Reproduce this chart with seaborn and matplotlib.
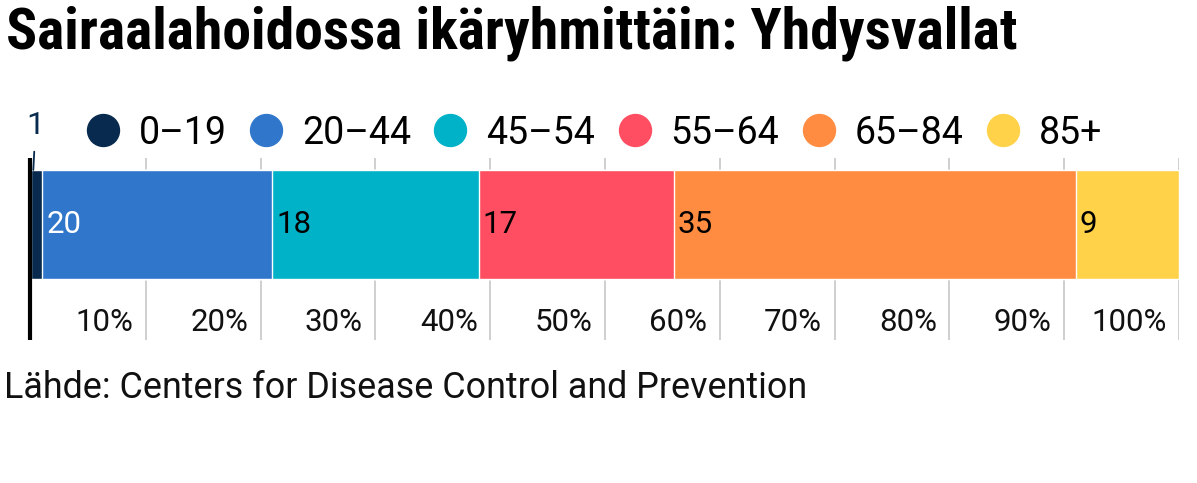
import matplotlib
matplotlib.use("Agg")
import matplotlib.pyplot as plt
import matplotlib.font_manager as fm
from matplotlib.lines import Line2D
from matplotlib.transforms import ScaledTranslation
import seaborn as sns
import numpy as np

# Data
groups = ["0–19", "20–44", "45–54", "55–64", "65–84", "85+"]
shares = [1, 20, 18, 17, 35, 9]
colors = ["#072a4e", "#3077cc", "#00b2c7", "#ff4e61", "#ff8c40", "#ffd24a"]
label_colors = ["#072a4e", "white", "black", "black", "black", "black"]
country = ["Yhdysvallat"]
ticks = [10, 20, 30, 40, 50, 60, 70, 80, 90, 100]
tick_labels = [f"{t}%" for t in ticks]

title = "Sairaalahoidossa ikäryhmittäin: Yhdysvallat"
source = "Lähde: Centers for Disease Control and Prevention"

sns.set_theme(style="white")
plt.rcParams["font.family"] = ["Roboto", "DejaVu Sans"]

# look for a condensed face for the title (reference uses a condensed bold)
fonts = fm.fontManager.ttflist
title_font = dict(family=["Roboto", "DejaVu Sans"])
cond = [f for f in fonts if "condensed" in f.name.lower() or "narrow" in f.name.lower()]
if cond:
    pick = sorted(cond, key=lambda f: ("roboto" not in f.name.lower(), f.name))[0]
    title_font = dict(family=[pick.name, "DejaVu Sans"])
else:
    stretched = [f for f in fonts if str(f.stretch) in ("condensed", "semi-condensed")]
    if stretched:
        pick = sorted(stretched, key=lambda f: ("roboto" not in f.name.lower(), f.name))[0]
        title_font = dict(family=[pick.name, "DejaVu Sans"], fontstretch="condensed")

W, H = 1197, 483
fig = plt.figure(figsize=(W / 100, H / 100), dpi=100)
ax = fig.add_axes([31 / W, 1 - 340 / H, (1179 - 31) / W, (340 - 158) / H])

# stacked bar: draw cumulative totals from largest to smallest
cum = np.cumsum(shares)
for total, col in reversed(list(zip(cum, colors))):
    sns.barplot(x=[total], y=country, orient="h", color=col, width=0.8,
                saturation=1, ax=ax, zorder=2)

ax.set_xlim(0, 100)
ax.set_ylim(0.849, -0.488)
ax.set_xlabel("")
ax.set_ylabel("")
ax.set_yticks([])
for s in ax.spines.values():
    s.set_visible(False)

ax.set_xticks(ticks)
ax.set_xticklabels(tick_labels, fontsize=22.5, color="#111111", ha="right")
ax.tick_params(axis="x", length=0, pad=-23)
for lab in ax.get_xticklabels():
    lab.set_transform(lab.get_transform() + ScaledTranslation(-9 / 72, 0, fig.dpi_scale_trans))
ax.xaxis.grid(True, color="#cccccc", linewidth=1.3, zorder=0)
ax.set_axisbelow(True)
ax.axvline(-0.1, color="black", linewidth=3, zorder=5, clip_on=False,
           solid_capstyle="butt")

# segment labels
starts = cum - np.array(shares)
for i, (st, v) in enumerate(zip(starts, shares)):
    if i == 0:
        ax.annotate(str(v), xy=(st + v / 2 - 0.3, -0.4), xytext=(st + v / 2 - 0.1, -0.62),
                    textcoords="data", ha="center", va="bottom", fontsize=23,
                    color=label_colors[i], annotation_clip=False,
                    arrowprops=dict(arrowstyle="-", color=label_colors[i], lw=1.3,
                                    shrinkA=6, shrinkB=0))
    else:
        ax.text(st + 0.35, 0, str(v), ha="left", va="center", fontsize=22.5,
                color=label_colors[i], zorder=4)

# legend
handles = [Line2D([], [], marker="o", linestyle="", markersize=23,
                  markerfacecolor=c, markeredgecolor=c) for c in colors]
fig.legend(handles, groups, loc="center left", bbox_to_anchor=(80 / W, 1 - 133 / H),
           ncol=6, frameon=False, fontsize=27, handletextpad=0.36,
           columnspacing=0.45, borderaxespad=0, borderpad=0, handlelength=1.2,
           labelcolor="black")

# title and source, fitted to the widths seen in the reference
def fitted_text(x, y, s, target_w, **kw):
    t = fig.text(x, y, s, **kw)
    r = fig.canvas.get_renderer()
    w = t.get_window_extent(r).width
    t.set_fontsize(t.get_fontsize() * target_w / w)
    return t

fitted_text(6 / W, 1 - 33 / H, title, 1012, fontsize=44, fontweight="bold",
            va="center", ha="left", color="black", **title_font)
fitted_text(4 / W, 1 - 388 / H, source, 802, fontsize=26,
            va="center", ha="left", color="#111111")

fig.savefig("out.png", dpi=100, facecolor="white")
